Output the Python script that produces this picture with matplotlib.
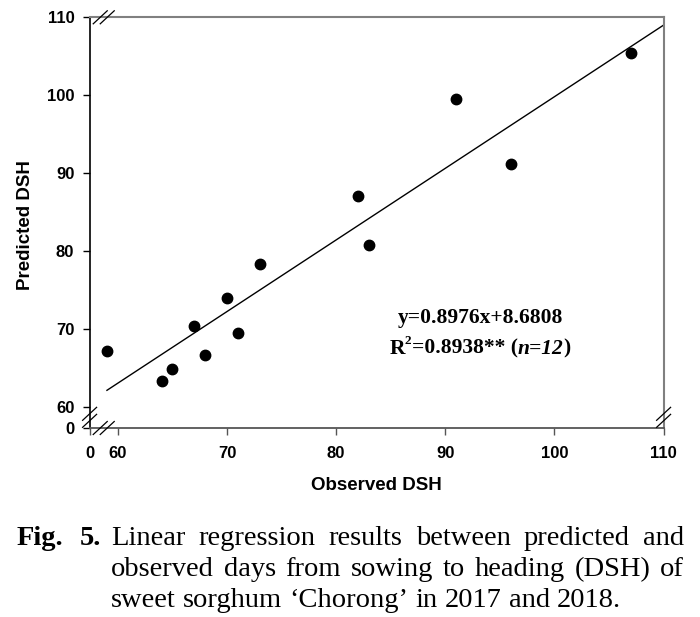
import matplotlib; matplotlib.use("agg")
import matplotlib.pyplot as plt
from matplotlib.lines import Line2D
import numpy as np

# observed vs predicted days from sowing to heading
obs = [59, 64, 65, 67, 68, 70, 71, 73, 82, 83, 91, 96, 107]
pred = [67.2, 63.3, 64.8, 70.3, 66.6, 74.0, 69.5, 78.3, 87.1, 80.8, 99.5, 91.2, 105.4]
fit_x = [59, 110]
fit_y = [62.1, 109.0]
xticks = [0, 60, 70, 80, 90, 100, 110]
yticks = [0, 60, 70, 80, 90, 100, 110]
eq_text = "y=0.8976x+8.6808"
caption = ["Linear regression results between predicted and",
           "observed days from sowing to heading (DSH) of",
           "sweet sorghum \u2018Chorong\u2019 in 2017 and 2018."]

W, H = 700, 617
fig = plt.figure(figsize=(W / 100, H / 100), dpi=100)
ax = fig.add_axes([89.6 / W, 1 - 428 / H, (663.6 - 89.6) / W, (428 - 17.3) / H])


def broken(lo, b=59.0):
    # linear above b, 0..b squeezed into lo..b
    def fwd(v):
        v = np.asarray(v, dtype=float)
        return np.where(v >= b, v, lo + v * (b - lo) / b)

    def inv(u):
        u = np.asarray(u, dtype=float)
        return np.where(u >= b, u, (u - lo) * b / (b - lo))
    return fwd, inv


ax.set_xscale("function", functions=broken(57.41))
ax.set_yscale("function", functions=broken(57.26))
ax.set_xlim(0, 110)
ax.set_ylim(0, 110)

ax.plot(fit_x, fit_y, color="black", lw=1.0)
ax.plot(obs, pred, "o", color="black", ms=7.5, clip_on=False)

tick_font = dict(family="Liberation Sans", weight="bold", size=12)
ax.set_xticks(xticks)
ax.set_xticklabels([str(v) for v in xticks], **tick_font)
ax.set_yticks(yticks)
ax.set_yticklabels([str(v) for v in yticks], **tick_font)
ax.tick_params(axis="x", direction="out", length=5, width=1, pad=8, colors="#555555", labelcolor="black")
ax.tick_params(axis="y", direction="out", length=5, width=1, pad=6, colors="black")
ax.tick_params(axis="both", which="minor", length=0)

for side in ["top", "right"]:
    ax.spines[side].set_color("#808080")
    ax.spines[side].set_linewidth(1.5)
ax.spines["left"].set_color("black")
ax.spines["left"].set_linewidth(1.2)
ax.spines["bottom"].set_color("#555555")
ax.spines["bottom"].set_linewidth(1.3)

lab_font = dict(family="Liberation Sans", weight="bold", size=13.5)
ax.set_xlabel("Observed DSH", **lab_font)
ax.set_ylabel("Predicted DSH", **lab_font)
ax.xaxis.label.set_va("center")
ax.yaxis.label.set_va("center")
ax.xaxis.set_label_coords(0.5, (428 - 486) / 410.7)
ax.yaxis.set_label_coords((25 - 89.6) / 574, (428 - 225) / 410.7)


def break_mark(cx, cy, along):
    for d in (-3.5, 3.5):
        ox, oy = (d, 0) if along == "x" else (0, d)
        xs = [(cx + ox - 7) / W, (cx + ox + 7) / W]
        ys = [(cy + oy - 6.5) / H, (cy + oy + 6.5) / H]
        fig.add_artist(Line2D(xs, ys, color="black", lw=0.9, transform=fig.transFigure))


# break marks sit halfway between the 0 and 60 ticks
x0p, y0p = ax.transData.transform((0, 0))
x60p, y60p = ax.transData.transform((60, 60))
xtop, ytop = ax.transData.transform((110, 110))
break_mark((x0p + x60p) / 2, ytop, "x")
break_mark((x0p + x60p) / 2, y0p, "x")
break_mark(x0p, (y0p + y60p) / 2, "y")
break_mark(xtop, (y0p + y60p) / 2, "y")

# regression equation
serif_b = dict(family="Liberation Serif", weight="bold")
fig.canvas.draw()
rend = fig.canvas.get_renderer()
fig.text(480 / W, 1 - 318 / H, eq_text, ha="center", va="center", size=15.5, **serif_b)

runs = [("R", 15.5, "normal", 0), ("2", 9.5, "normal", 6), ("=0.8938** (", 15.5, "normal", 0),
        ("n=12", 15.5, "italic", 0), (")", 15.5, "normal", 0)]
items = []
for s, size, style, dy in runs:
    t = fig.text(0, 1 - 346 / H, s, va="center_baseline", size=size, style=style, **serif_b)
    items.append((t, dy))
widths = [t.get_window_extent(rend).width for t, _ in items]
x = 480 - sum(widths) / 2
for (t, dy), w in zip(items, widths):
    t.set_position((x / W, 1 - (346 - dy) / H))
    x += w

# caption, justified like the journal layout
cap_size = 20.5
fig.text(17 / W, 1 - 545 / H, "Fig.", size=cap_size, va="baseline", **serif_b)
fig.text(101 / W, 1 - 545 / H, "5.", size=cap_size, va="baseline", ha="right", **serif_b)
x0, x1 = 111, 684
for i, line in enumerate(caption):
    yb = 1 - (545 + 31 * i) / H
    words = line.split(" ")
    ts = [fig.text(0, yb, w_, size=cap_size, va="baseline", family="Liberation Serif") for w_ in words]
    ws = [t.get_window_extent(rend).width for t in ts]
    if i < len(caption) - 1:
        gap = (x1 - x0 - sum(ws)) / (len(ws) - 1)
    else:
        sp = fig.text(0, 0, "a a", size=cap_size, family="Liberation Serif")
        aa = fig.text(0, 0, "aa", size=cap_size, family="Liberation Serif")
        gap = sp.get_window_extent(rend).width - aa.get_window_extent(rend).width
        sp.remove()
        aa.remove()
    x = x0
    for t, w in zip(ts, ws):
        t.set_position((x / W, yb))
        x += w + gap

fig.savefig("out.png", dpi=100)
